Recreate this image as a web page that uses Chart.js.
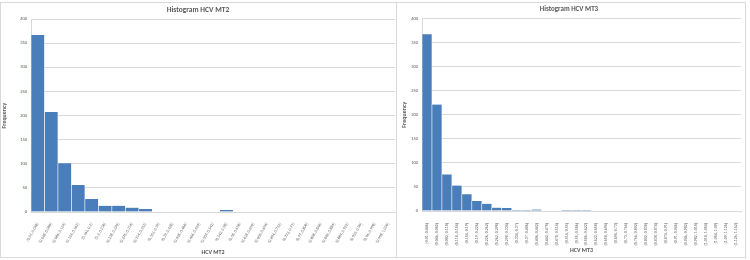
<!DOCTYPE html>
<html>
<head>
<meta charset="utf-8">
<script src="https://cdn.jsdelivr.net/npm/chart.js@4.4.1/dist/chart.umd.min.js"></script>
<style>
  body { margin: 0; background: #ffffff; width: 750px; height: 260px; position: relative; overflow: hidden; }
  .box { position: absolute; background: #fff; border: 1px solid #d9d9d9; box-sizing: border-box; }
  #box2 { left: 0px; top: 2px; width: 398px; height: 256px; }
  #box3 { left: 396px; top: 2px; width: 350px; height: 256px; }
  canvas { position: absolute; left: 0; top: 0; }
</style>
</head>
<body>
<div class="box" id="box2"><canvas id="mt2" width="396" height="254"></canvas></div>
<div class="box" id="box3"><canvas id="mt3" width="348" height="254"></canvas></div>
<script>
// Histogram HCV MT2 - intervalos de 0.038
const mt2Labels = ['[0.01, 0.048]', '(0.048, 0.086]', '(0.086, 0.124]', '(0.124, 0.162]', '(0.162, 0.2]',
  '(0.2, 0.238]', '(0.238, 0.276]', '(0.276, 0.314]', '(0.314, 0.352]', '(0.352, 0.39]', '(0.39, 0.428]',
  '(0.428, 0.466]', '(0.466, 0.504]', '(0.504, 0.542]', '(0.542, 0.58]', '(0.58, 0.618]', '(0.618, 0.656]',
  '(0.656, 0.694]', '(0.694, 0.732]', '(0.732, 0.77]', '(0.77, 0.808]', '(0.808, 0.846]', '(0.846, 0.884]',
  '(0.884, 0.922]', '(0.922, 0.96]', '(0.96, 0.998]', '(0.998, 1.036]'];
const mt2Counts = [367, 207, 101, 56, 27, 13, 13, 9, 6, 1, 1, 0, 1, 0, 4, 0, 1, 0, 0, 0, 0, 0, 0, 0, 0, 0, 0];

// Histogram HCV MT3 - intervalos de 0.036
const mt3Labels = ['[0.01, 0.046]', '(0.046, 0.082]', '(0.082, 0.118]', '(0.118, 0.154]', '(0.154, 0.19]',
  '(0.19, 0.226]', '(0.226, 0.262]', '(0.262, 0.298]', '(0.298, 0.334]', '(0.334, 0.37]', '(0.37, 0.406]',
  '(0.406, 0.442]', '(0.442, 0.478]', '(0.478, 0.514]', '(0.514, 0.55]', '(0.55, 0.586]', '(0.586, 0.622]',
  '(0.622, 0.658]', '(0.658, 0.694]', '(0.694, 0.73]', '(0.73, 0.766]', '(0.766, 0.802]', '(0.802, 0.838]',
  '(0.838, 0.874]', '(0.874, 0.91]', '(0.91, 0.946]', '(0.946, 0.982]', '(0.982, 1.018]', '(1.018, 1.054]',
  '(1.054, 1.09]', '(1.09, 1.126]', '(1.126, 1.162]'];
const mt3Counts = [367, 221, 76, 53, 35, 21, 15, 7, 6, 2, 2, 3, 0, 0, 2, 2, 2, 0, 0, 1, 0, 0, 0, 1, 0, 0, 0, 0, 0, 0, 0, 1];

const yMax = 400;
const yStep = 50;

const barColor = '#4a7ebb';
const textColor = '#595959';
const gridColor = '#d9d9d9';
const fontFamily = "Calibri, Carlito, 'Liberation Sans', sans-serif";

function makeHistogram(id, labels, counts, title, xTitle, cfg) {
  const ctx = document.getElementById(id).getContext('2d');
  return new Chart(ctx, {
    type: 'bar',
    data: {
      labels: labels,
      datasets: [{
        data: counts,
        backgroundColor: barColor,
        borderColor: '#ffffff',
        borderWidth: { left: 0.6, right: 0.6, top: 0, bottom: 0 },
        borderSkipped: false,
        categoryPercentage: 1,
        barPercentage: 1,
      }]
    },
    options: {
      responsive: false,
      animation: false,
      devicePixelRatio: 1,
      layout: { padding: { left: 0, right: cfg.padRight, top: 0, bottom: 0 } },
      plugins: {
        legend: { display: false },
        tooltip: { enabled: false },
        title: {
          display: true,
          text: title,
          color: textColor,
          font: { family: fontFamily, size: cfg.titleSize, weight: '600' },
          padding: { top: 2.5, bottom: 4.5 },
        }
      },
      scales: {
        x: {
          grid: { display: false },
          border: { color: gridColor },
          ticks: {
            color: textColor,
            font: { family: fontFamily, size: 4 },
            autoSkip: false,
            minRotation: cfg.rotation,
            maxRotation: cfg.rotation,
            padding: cfg.tickPad,
          },
          title: {
            display: true,
            text: xTitle,
            color: textColor,
            font: { family: fontFamily, size: 6, weight: 'bold' },
            padding: { top: 0, bottom: cfg.xTitlePad },
          },
          afterFit: (scale) => { scale.height = cfg.xHeight; }
        },
        y: {
          min: 0,
          max: yMax,
          grid: { color: gridColor, drawTicks: false },
          border: { color: gridColor },
          ticks: {
            stepSize: yStep,
            color: textColor,
            font: { family: fontFamily, size: 4.5 },
            padding: 4,
          },
          title: {
            display: true,
            text: 'Frequency',
            color: textColor,
            font: { family: fontFamily, size: 6, weight: 'bold' },
            padding: { top: cfg.yTitlePad, bottom: 0 },
          },
          afterFit: (scale) => { scale.width = cfg.yWidth; }
        }
      }
    }
  });
}

makeHistogram('mt2', mt2Labels, mt2Counts, 'Histogram HCV MT2', 'HCV MT2',
  { yWidth: 30, xHeight: 45, padRight: 2, rotation: 60, tickPad: 2, xTitlePad: 1, yTitlePad: 0, titleSize: 7.5 });
makeHistogram('mt3', mt3Labels, mt3Counts, 'Histogram HCV MT3', 'HCV MT3',
  { yWidth: 25, xHeight: 46, padRight: 4, rotation: 90, tickPad: 4, xTitlePad: 3, yTitlePad: 4, titleSize: 7 });
</script>
</body>
</html>
